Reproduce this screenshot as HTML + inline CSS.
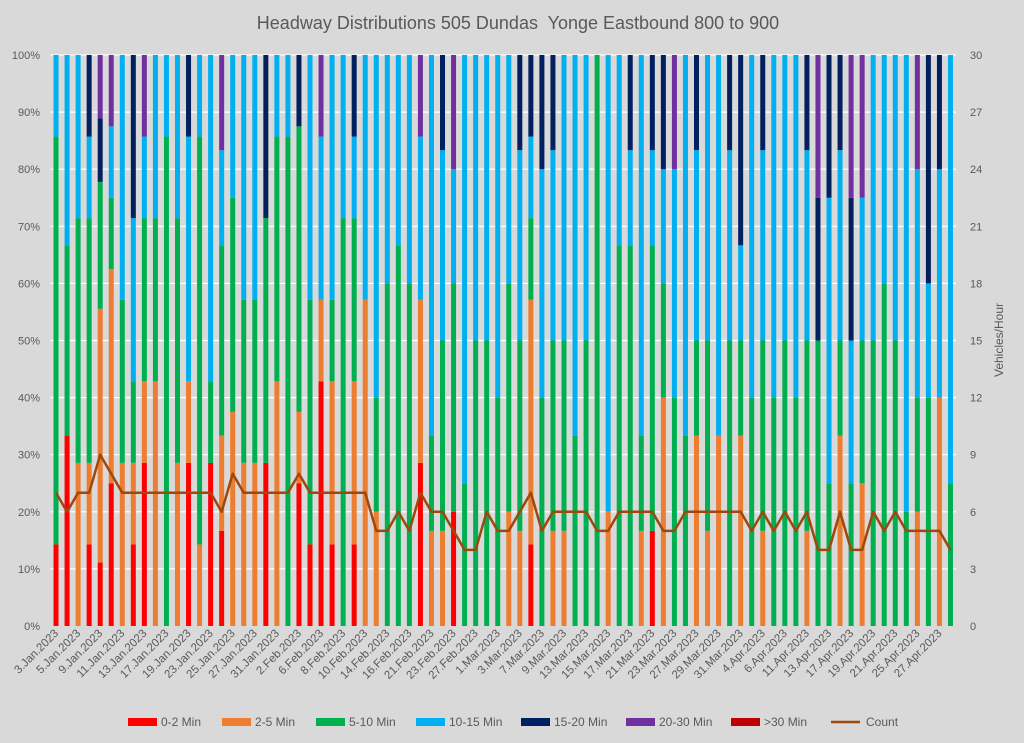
<!DOCTYPE html>
<html><head><meta charset="utf-8">
<style>
html,body{margin:0;padding:0;background:#d9d9d9;}
svg{display:block;font-family:"Liberation Sans",sans-serif;}
</style></head>
<body>
<svg id="chart" width="1024" height="743" viewBox="0 0 1024 743">
<rect x="0" y="0" width="1024" height="743" fill="#d9d9d9"/>
<text x="518" y="29" text-anchor="middle" font-size="18" fill="#595959" style="white-space:pre">Headway Distributions 505 Dundas&#160; Yonge Eastbound 800 to 900</text>
<text transform="translate(1003,340) rotate(-90)" text-anchor="middle" font-size="12" fill="#595959">Vehicles/Hour</text>
<g id="grid"></g><g id="bars"></g><g id="line"></g><g id="axes"></g><g id="legend"></g>
</svg>
<script>
const dates=["3.Jan.2023","4.Jan.2023","5.Jan.2023","6.Jan.2023","9.Jan.2023","10.Jan.2023","11.Jan.2023","12.Jan.2023","13.Jan.2023","16.Jan.2023","17.Jan.2023","18.Jan.2023","19.Jan.2023","20.Jan.2023","23.Jan.2023","24.Jan.2023","25.Jan.2023","26.Jan.2023","27.Jan.2023","30.Jan.2023","31.Jan.2023","1.Feb.2023","2.Feb.2023","3.Feb.2023","6.Feb.2023","7.Feb.2023","8.Feb.2023","9.Feb.2023","10.Feb.2023","13.Feb.2023","14.Feb.2023","15.Feb.2023","16.Feb.2023","17.Feb.2023","21.Feb.2023","22.Feb.2023","23.Feb.2023","24.Feb.2023","27.Feb.2023","28.Feb.2023","1.Mar.2023","2.Mar.2023","3.Mar.2023","6.Mar.2023","7.Mar.2023","8.Mar.2023","9.Mar.2023","10.Mar.2023","13.Mar.2023","14.Mar.2023","15.Mar.2023","16.Mar.2023","17.Mar.2023","20.Mar.2023","21.Mar.2023","22.Mar.2023","23.Mar.2023","24.Mar.2023","27.Mar.2023","28.Mar.2023","29.Mar.2023","30.Mar.2023","31.Mar.2023","3.Apr.2023","4.Apr.2023","5.Apr.2023","6.Apr.2023","10.Apr.2023","11.Apr.2023","12.Apr.2023","13.Apr.2023","14.Apr.2023","17.Apr.2023","18.Apr.2023","19.Apr.2023","20.Apr.2023","21.Apr.2023","24.Apr.2023","25.Apr.2023","26.Apr.2023","27.Apr.2023","28.Apr.2023"];
const min0_2=[1,2,0,1,1,2,0,1,2,0,0,0,2,0,2,1,0,0,0,2,0,0,2,1,3,1,0,1,0,0,0,0,0,2,0,0,1,0,0,0,0,0,0,1,0,0,0,0,0,0,0,0,0,0,1,0,0,0,0,0,0,0,0,0,0,0,0,0,0,0,0,0,0,0,0,0,0,0,0,0,0,0];
const min2_5=[0,0,2,1,4,3,2,1,1,3,0,2,1,1,0,1,3,2,2,0,3,0,1,0,1,2,0,2,4,1,0,0,0,2,1,1,0,0,0,0,0,1,1,3,0,1,1,0,0,0,1,0,0,1,0,2,0,0,2,1,2,0,2,0,1,0,0,0,1,0,0,2,0,1,0,0,0,0,1,0,2,0];
const min5_10=[5,2,3,3,2,1,2,1,2,2,6,3,0,5,1,2,3,2,2,3,3,6,4,3,0,1,5,2,0,1,3,4,3,0,1,2,2,1,2,3,2,2,2,1,2,2,2,2,3,5,0,4,4,1,3,1,2,2,1,2,0,3,1,2,2,2,3,2,2,2,1,1,1,1,3,3,3,1,1,2,0,1];
const min10_15=[1,2,2,1,0,1,3,2,1,2,1,2,3,1,4,1,2,3,3,0,1,1,0,3,2,3,2,1,3,3,2,2,2,2,4,2,1,3,2,3,3,2,2,1,2,2,3,4,3,0,4,2,1,4,1,1,2,4,2,3,4,2,1,3,2,3,3,3,2,0,2,2,1,1,3,2,3,4,2,1,2,3];
const min15_20=[0,0,0,1,1,0,0,2,0,0,0,0,1,0,0,0,0,0,0,2,0,0,1,0,0,0,0,1,0,0,0,0,0,0,0,1,0,0,0,0,0,0,1,1,1,1,0,0,0,0,0,0,1,0,1,1,0,0,1,0,0,1,2,0,1,0,0,0,1,1,1,1,1,0,0,0,0,0,0,2,1,0];
const min20_30=[0,0,0,0,1,1,0,0,1,0,0,0,0,0,0,1,0,0,0,0,0,0,0,0,1,0,0,0,0,0,0,0,0,1,0,0,1,0,0,0,0,0,0,0,0,0,0,0,0,0,0,0,0,0,0,0,1,0,0,0,0,0,0,0,0,0,0,0,0,1,0,0,1,1,0,0,0,0,1,0,0,0];
const min30plus=[0,0,0,0,0,0,0,0,0,0,0,0,0,0,0,0,0,0,0,0,0,0,0,0,0,0,0,0,0,0,0,0,0,0,0,0,0,0,0,0,0,0,0,0,0,0,0,0,0,0,0,0,0,0,0,0,0,0,0,0,0,0,0,0,0,0,0,0,0,0,0,0,0,0,0,0,0,0,0,0,0,0];
const countPerHour=[7,6,7,7,9,8,7,7,7,7,7,7,7,7,7,6,8,7,7,7,7,7,8,7,7,7,7,7,7,5,5,6,5,7,6,6,5,4,4,6,5,5,6,7,5,6,6,6,6,5,5,6,6,6,6,5,5,6,6,6,6,6,6,5,6,5,6,5,6,4,4,6,4,4,6,5,6,5,5,5,5,4];
const pctTicks=[0,10,20,30,40,50,60,70,80,90,100];
const countTicks=[0,3,6,9,12,15,18,21,24,27,30];

const NS="http://www.w3.org/2000/svg";
const PL=50.5,PR=956,PT=55,PB=626;
const band=(PR-PL)/dates.length;
function xC(i){return PL+band*(i+0.5);}
function yP(p){return PB-(PB-PT)*p/100;}
function yC(c){return PB-(PB-PT)*c/30;}
function mk(tag,attrs,parent){const e=document.createElementNS(NS,tag);for(const k in attrs)e.setAttribute(k,attrs[k]);parent.appendChild(e);return e;}
const gGrid=document.getElementById('grid'),gBars=document.getElementById('bars'),gLine=document.getElementById('line'),gAxes=document.getElementById('axes'),gLeg=document.getElementById('legend');

pctTicks.forEach(t=>{
  if(t>0){const l=mk('line',{x1:PL,x2:PR,y1:yP(t),y2:yP(t),stroke:'#ffffff','stroke-width':1.2},gGrid);
  
  }
  const tx=mk('text',{x:40,y:yP(t)+4,'text-anchor':'end','font-size':11,fill:'#595959'},gAxes);
  tx.textContent=t+'%';
  
  
});
countTicks.forEach(t=>{
  const tx=mk('text',{x:970,y:yC(t)+4,'text-anchor':'start','font-size':11,fill:'#595959'},gAxes);
  tx.textContent=t;
  
  
});

const series=[[min0_2,'#ff0000'],[min2_5,'#ed7d31'],[min5_10,'#00b050'],[min10_15,'#00b0f0'],[min15_20,'#002060'],[min20_30,'#7030a0'],[min30plus,'#c00000']];
const sNames=['0-2','2-5','5-10','10-15','15-20','20-30','30plus'];
dates.forEach((d,i)=>{
  let tot=0;series.forEach(s=>tot+=s[0][i]);
  let cum=0;
  series.forEach((s,k)=>{
    const v=s[0][i];if(!v||!tot)return;
    const p0=cum/tot*100,p1=(cum+v)/tot*100;cum+=v;
    const r=mk('rect',{x:xC(i)-2.5,y:yP(p1),width:5,height:yP(p0)-yP(p1),fill:s[1]},gBars);
    
    
  });
  if(i%2===0){
    const x=xC(i)+3,y=PB+8;
    const tx=mk('text',{x:x,y:y,'text-anchor':'end','font-size':11.5,fill:'#595959',transform:'rotate(-45 '+x+' '+y+')'},gAxes);
    tx.textContent=d;
    
    
  }
});
const pts=countPerHour.map((c,i)=>xC(i)+','+yC(c)).join(' ');
const pl=mk('polyline',{points:pts,fill:'none',stroke:'#9e480e','stroke-width':2.5,'stroke-linejoin':'round'},gLine);



const legItems=[['0-2 Min','#ff0000',128],['2-5 Min','#ed7d31',222],['5-10 Min','#00b050',316],['10-15 Min','#00b0f0',416],['15-20 Min','#002060',521],['20-30 Min','#7030a0',626],['>30 Min','#c00000',731]];
legItems.forEach(it=>{
  const g=mk('g',{},gLeg);
  
  
  mk('rect',{x:it[2],y:718,width:29,height:8,fill:it[1]},g);
  const t=mk('text',{x:it[2]+33,y:726,'font-size':12,fill:'#595959'},g);t.textContent=it[0];
});
const lg=mk('g',{},gLeg);


mk('line',{x1:831,x2:860,y1:722,y2:722,stroke:'#9e480e','stroke-width':2.5},lg);
const lt=mk('text',{x:866,y:726,'font-size':12,fill:'#595959'},lg);lt.textContent='Count';
</script>
</body></html>
